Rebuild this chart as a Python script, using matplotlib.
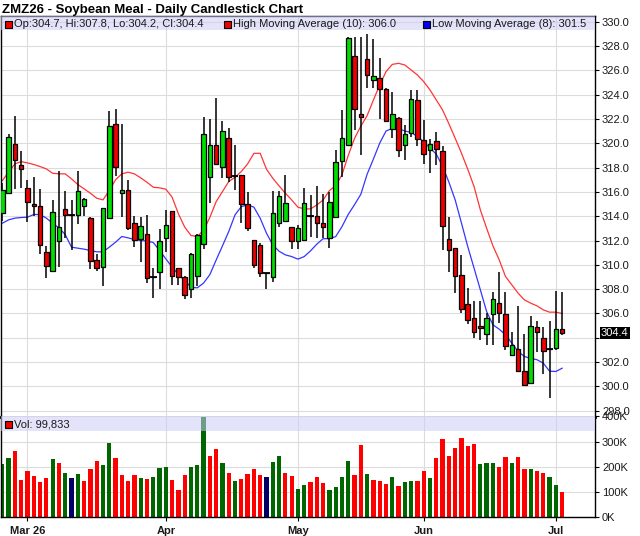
import numpy as np
import matplotlib
matplotlib.use("Agg")
import matplotlib.pyplot as plt
from matplotlib.patches import Rectangle

plt.rcParams['font.family'] = ['Liberation Sans', 'DejaVu Sans']

# daily OHLC, ZMZ26 (Feb 24 .. Jul 2)
opens = [314.27, 315.92, 319.95, 318.22, 316.33, 314.99, 314.85, 311.04, 309.50, 311.97,
         314.55, 314.11, 314.11, 314.82, 313.86, 310.41, 309.86, 313.86, 321.59, 315.92,
         316.16, 313.42, 312.14, 312.50, 309.00, 309.45, 312.19, 314.41, 309.70, 309.04,
         308.05, 309.10, 311.73, 317.21, 319.89, 318.03, 320.41, 317.32, 317.37, 314.99,
         312.03, 311.64, 309.32, 308.99, 313.40, 313.59, 313.10, 311.95, 312.05, 314.05,
         314.05, 313.42, 312.19, 313.97, 318.55, 319.86, 327.20, 322.38, 326.93, 325.20,
         325.34, 324.43, 321.18, 322.10, 319.86, 320.82, 323.53, 320.30, 319.42, 320.22,
         319.32, 312.11, 311.37, 309.15, 306.77, 305.59, 304.93, 304.30, 305.97, 306.85,
         305.95, 302.60, 303.12, 301.23, 300.27, 304.88, 303.97, 303.07, 303.15, 304.70]
highs = [316.70, 320.77, 322.27, 319.32, 317.01, 317.26, 316.25, 311.53, 315.37, 317.75,
         316.10, 315.37, 317.75, 315.50, 313.90, 310.90, 314.70, 322.68, 322.85, 321.59,
         317.01, 314.05, 313.92, 314.08, 309.70, 312.93, 314.47, 314.45, 309.75, 309.10,
         311.00, 312.55, 322.19, 321.97, 323.73, 321.81, 321.23, 319.86, 317.40, 315.95,
         312.05, 311.80, 309.35, 316.10, 316.07, 317.37, 313.15, 313.30, 316.30, 315.75,
         316.50, 315.80, 316.03, 319.45, 322.74, 328.70, 328.76, 328.76, 328.96, 328.60,
         326.99, 324.50, 324.25, 322.15, 321.50, 324.38, 324.38, 321.90, 320.35, 320.96,
         319.80, 313.97, 311.40, 310.82, 308.08, 306.99, 306.99, 306.00, 307.75, 309.45,
         307.73, 304.47, 306.58, 304.30, 305.81, 305.40, 304.88, 305.40, 307.81, 307.80]
lows = [313.64, 315.80, 316.25, 316.33, 313.50, 314.05, 310.85, 308.90, 309.40, 309.81,
        312.19, 311.18, 313.32, 314.05, 309.67, 309.48, 308.25, 313.80, 317.34, 313.92,
        312.90, 311.45, 310.22, 308.50, 307.30, 308.05, 311.07, 308.36, 308.36, 307.23,
        307.29, 308.22, 311.29, 315.07, 318.20, 317.12, 316.85, 316.16, 313.40, 312.80,
        309.73, 309.00, 308.00, 308.55, 313.10, 313.50, 311.30, 311.30, 312.00, 312.25,
        312.20, 312.20, 311.37, 313.90, 317.26, 319.80, 321.10, 319.04, 324.52, 324.52,
        322.00, 321.80, 320.40, 318.90, 318.63, 320.50, 319.73, 318.27, 317.53, 318.20,
        311.23, 309.37, 307.67, 306.08, 305.15, 303.97, 303.78, 303.42, 303.42, 305.20,
        303.00, 302.55, 301.20, 300.00, 300.20, 302.80, 301.00, 299.04, 303.00, 304.20]
closes = [316.16, 320.55, 318.63, 317.89, 315.15, 314.85, 311.64, 309.92, 314.38, 313.15,
          314.11, 314.11, 316.11, 315.42, 310.33, 309.75, 314.68, 321.45, 318.05, 316.16,
          313.04, 312.05, 313.18, 308.95, 309.00, 311.95, 313.26, 309.10, 308.99, 307.51,
          310.85, 312.49, 320.74, 319.89, 318.30, 320.99, 317.21, 317.32, 315.01, 313.01,
          310.00, 309.32, 309.32, 314.30, 315.62, 315.12, 311.95, 312.99, 315.07, 314.05,
          313.42, 313.10, 315.20, 318.44, 320.41, 328.62, 322.82, 322.16, 325.62, 325.50,
          324.47, 321.84, 322.38, 319.45, 320.74, 323.64, 320.36, 319.10, 319.97, 319.53,
          313.21, 311.23, 309.10, 306.36, 305.48, 304.47, 304.79, 305.59, 307.18, 306.08,
          303.34, 303.37, 301.23, 300.14, 304.93, 304.47, 302.88, 303.07, 304.71, 304.40]

# moving averages as drawn on the chart
high_ma = [316.93, 317.62, 318.30, 318.49, 318.38, 318.25, 318.08, 317.89, 317.53, 317.48,
           317.48, 317.07, 316.60, 316.25, 315.89, 315.48, 315.34, 316.10, 316.99, 317.48,
           317.62, 317.48, 317.15, 316.79, 316.38, 316.33, 316.22, 315.56, 314.19, 313.10,
           312.41, 312.33, 312.85, 313.90, 315.20, 316.02, 316.85, 317.20, 317.67, 318.30,
           319.17, 319.17, 317.86, 317.12, 316.49, 315.89, 315.34, 314.74, 314.60, 314.60,
           314.92, 315.33, 316.10, 316.51, 317.40, 319.00, 320.40, 321.40, 322.27, 323.55,
           324.79, 325.88, 326.48, 326.57, 326.43, 326.02, 325.61, 325.06, 324.38, 323.55,
           322.73, 321.60, 320.41, 319.18, 317.86, 316.44, 314.52, 313.01, 311.56, 310.41,
           309.04, 308.36, 307.67, 307.12, 306.85, 306.63, 306.30, 306.11, 306.11, 306.00]
low_ma = [313.42, 313.70, 313.84, 313.89, 313.92, 314.14, 314.14, 313.84, 313.42, 313.04,
          312.49, 311.45, 311.37, 311.29, 311.18, 311.07, 311.07, 311.45, 311.86, 312.33,
          312.22, 312.08, 312.00, 311.95, 311.84, 311.18, 310.49, 309.81, 309.21, 308.71,
          308.16, 308.11, 308.50, 309.20, 310.40, 311.56, 312.74, 314.11, 314.79, 314.93,
          314.74, 313.83, 312.60, 311.64, 311.12, 310.82, 310.68, 310.47, 310.68, 311.15,
          311.70, 312.15, 312.15, 312.32, 313.14, 314.15, 314.95, 315.80, 317.45, 318.70,
          320.00, 321.00, 321.22, 321.20, 321.00, 320.89, 320.54, 320.13, 319.60, 319.10,
          318.10, 316.80, 315.34, 313.43, 311.50, 309.73, 307.95, 306.16, 305.07, 304.71,
          304.25, 303.57, 302.88, 302.47, 302.30, 302.20, 301.92, 301.26, 301.23, 301.50]

# volume in thousands
volume_k = [212, 236, 264, 148, 184, 164, 140, 156, 232, 217,
            176, 156, 172, 144, 192, 224, 208, 295, 236, 167,
            144, 167, 156, 151, 160, 197, 200, 148, 109, 168,
            200, 208, 398, 244, 272, 217, 176, 144, 152, 172,
            192, 168, 160, 220, 244, 176, 164, 113, 128, 140,
            160, 138, 109, 120, 160, 224, 168, 287, 172, 148,
            144, 132, 160, 124, 140, 144, 144, 184, 156, 236,
            311, 244, 276, 315, 284, 292, 213, 217, 216, 200,
            240, 217, 240, 192, 192, 184, 176, 160, 128, 99.833]

month_idx = [4, 26, 47, 67, 88]
month_labels = ["Mar 26", "Apr", "May", "Jun", "Jul"]

o = np.array(opens)
h = np.array(highs)
lo = np.array(lows)
c = np.array(closes)
vol = np.array(volume_k) * 1000
x = np.arange(len(c))

W, H = 640, 536
fig = plt.figure(figsize=(W / 100, H / 100), dpi=100)


def fx(px):
    return px / W


def fy(py):
    return 1 - py / H


L, R = fx(1), fx(595)
ax = fig.add_axes([L, fy(416.5), R - L, 400.5 / H])
axv = fig.add_axes([L, fy(517.3), R - L, 100.8 / H], sharex=ax)

GRID = '#DCDCDC'
TXT = '#1a1a1a'

# price panel
ax.set_xlim(-0.21, 94.23)
ax.set_ylim(297.53, 330.46)
ax.plot(x, high_ma, color='#FF3535', lw=0.9, zorder=2.5)
ax.plot(x, low_ma, color='#3535FF', lw=0.9, zorder=2.5)
ax.vlines(x, lo, h, color='black', lw=1.1, zorder=3)
body_col = np.where(c > o, '#00DD00', np.where(c < o, '#EE0000', 'black'))
ax.bar(x, np.abs(c - o), bottom=np.minimum(o, c), width=0.72, color=body_col,
       edgecolor='black', lw=0.9, zorder=4)
doji = c == o
ax.hlines(c[doji], x[doji] - 0.55, x[doji] + 0.55, color='black', lw=1.3, zorder=4)

ax.yaxis.tick_right()
yt = np.arange(298, 331, 2)
ax.set_yticks(yt)
ax.set_yticklabels(['' if abs(v - c[-1]) < 1 else f'{v:.1f}' for v in yt])
ax.tick_params(axis='y', direction='out', length=3, width=0.8, pad=2,
               labelsize=8, labelcolor=TXT)
ax.tick_params(axis='x', bottom=False, labelbottom=False)
ax.grid(True, color=GRID, lw=0.8)
ax.set_axisbelow(True)
for s in ax.spines.values():
    s.set_linewidth(1)
ax.spines['bottom'].set_linewidth(2)

ax.text(1 + 6 / 594, c[-1], f'{c[-1]:.1f}', transform=ax.get_yaxis_transform(),
        ha='left', va='center', fontsize=8, color='white', zorder=10,
        bbox=dict(facecolor='black', edgecolor='none', pad=1.0))

ax.add_patch(Rectangle((0, 0.965), 1, 0.035, transform=ax.transAxes,
                       facecolor=(0.80, 0.80, 0.97), alpha=0.55,
                       edgecolor='none', zorder=5))

# volume panel
prev = np.r_[o[0], c[:-1]]
vcol = np.where(c > prev, '#006600', np.where(c < prev, '#FF0000', '#000066'))
axv.bar(x, vol, width=0.68, color=vcol, zorder=2)
axv.set_ylim(0, 400000)
axv.yaxis.tick_right()
vt = np.arange(0, 400001, 100000)
axv.set_yticks(vt)
axv.set_yticklabels([f'{int(v / 1000)}K' for v in vt])
axv.set_xticks(month_idx)
axv.set_xticklabels(month_labels, fontweight='bold')
axv.tick_params(axis='y', direction='out', length=3, width=0.8, pad=2,
                labelsize=8, labelcolor=TXT)
axv.tick_params(axis='x', direction='out', length=3, width=0.8, pad=3,
                labelsize=8, labelcolor=TXT)
axv.grid(True, color=GRID, lw=0.8)
axv.set_axisbelow(True)
for s in axv.spines.values():
    s.set_linewidth(1)
axv.spines['top'].set_visible(False)
axv.add_patch(Rectangle((0, 1 - 14.2 / 100.8), 1, 14.2 / 100.8, transform=axv.transAxes,
                        facecolor=(0.80, 0.80, 0.97), alpha=0.55,
                        edgecolor='none', zorder=5))

# title and legend strips
fig.text(fx(2), fy(12.7), "ZMZ26 - Soybean Meal - Daily Candlestick Chart",
         fontsize=9.5, fontweight='bold', color='black', va='baseline')


def legend_item(px, py, color, label):
    fig.add_artist(Rectangle((fx(px), fy(py + 3.5)), 7 / W, 7 / H, transform=fig.transFigure,
                             facecolor=color, edgecolor='black', lw=0.8, zorder=6))
    fig.text(fx(px + 9), fy(py), label, fontsize=8, color=TXT, va='center', zorder=7)


legend_item(5, 24.3, '#EE0000',
            f'Op:{o[-1]:.1f}, Hi:{h[-1]:.1f}, Lo:{lo[-1]:.1f}, Cl:{c[-1]:.1f}')
legend_item(224, 24.3, '#EE0000', f'High Moving Average (10): {high_ma[-1]:.1f}')
legend_item(423, 24.3, '#0000EE', f'Low Moving Average (8): {low_ma[-1]:.1f}')
legend_item(5, 424.3, '#EE0000', f'Vol: {int(round(vol[-1])):,}')

fig.savefig('out.png', dpi=100)
